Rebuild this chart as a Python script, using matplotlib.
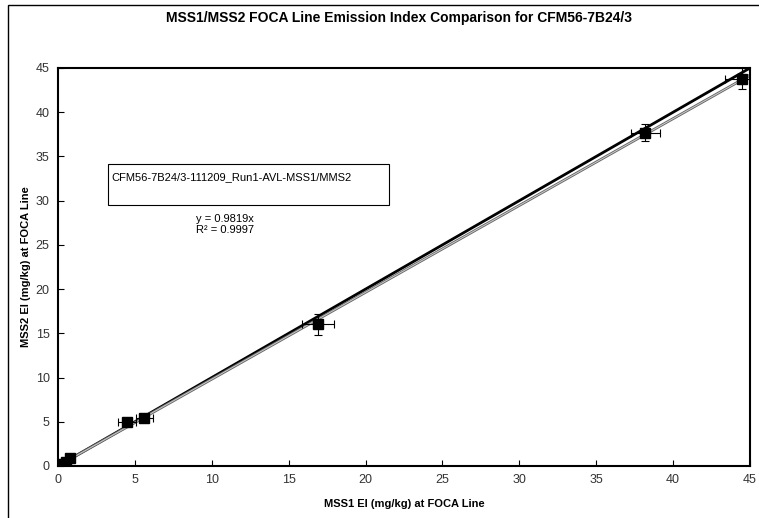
import matplotlib.pyplot as plt
from matplotlib.patches import Rectangle
import numpy as np

plt.rcParams['font.family'] = ['Liberation Sans', 'DejaVu Sans']

# data
mss1 = [0.3, 0.5, 0.8, 4.5, 5.6, 16.9, 38.2, 44.5]
mss2 = [0.2, 0.4, 0.85, 4.95, 5.45, 16.0, 37.7, 43.8]
mss1_err = [0.1, 0.15, 0.2, 0.6, 0.55, 1.05, 0.95, 1.1]
mss2_err = [0.1, 0.1, 0.15, 0.3, 0.35, 1.2, 0.95, 1.15]
slope = 0.9819
r2 = 0.9997
lim = [0, 45]

fig = plt.figure(figsize=(7.59, 5.18), dpi=100)
ax = fig.add_axes([58/759, 1-466/518, (750-58)/759, (466-68)/518])

# outer chart border (cropped at right and bottom)
fig.patches.append(Rectangle((8/759, -0.05), 1.1, 1-5/518+0.05, transform=fig.transFigure,
                             fill=False, edgecolor='black', linewidth=1))

ax.plot(lim, lim, color='black', linewidth=2, zorder=2)
xx = np.array(lim)
ax.plot(xx, slope*xx, color='#666666', linewidth=2.0, zorder=2)
ax.plot(xx, slope*xx, color='#cccccc', linewidth=0.7, zorder=2)
ax.errorbar(mss1, mss2, xerr=mss1_err, yerr=mss2_err, fmt='s', color='black',
            markersize=7, ecolor='black', elinewidth=0.8, capsize=3, capthick=0.8, zorder=3)

ax.set_xlim(lim)
ax.set_ylim(lim)
ax.set_xticks(range(0, 46, 5))
ax.set_yticks(range(0, 46, 5))
ax.tick_params(direction='in', length=4, labelsize=9, labelcolor='#333333', pad=6)
for s in ax.spines.values():
    s.set_linewidth(1.5)

ax.set_xlabel('MSS1 EI (mg/kg) at FOCA Line', fontsize=8, fontweight='bold', labelpad=9)
ax.set_ylabel('MSS2 EI (mg/kg) at FOCA Line', fontsize=8, fontweight='bold', labelpad=3)
fig.text(399/759, 1-18/518, 'MSS1/MSS2 FOCA Line Emission Index Comparison for CFM56-7B24/3',
         ha='center', va='center', fontsize=10, fontweight='bold')

ax.add_patch(Rectangle((3.25, 29.5), 18.25, 4.7, fill=False, edgecolor='black', linewidth=0.8))
ax.text(3.5, 32.7, 'CFM56-7B24/3-111209_Run1-AVL-MSS1/MMS2', fontsize=8, va='center')
ax.text(9.0, 27.3, 'y = 0.9819x\nR² = 0.9997', fontsize=8, va='center', linespacing=1.15)

fig.savefig('out.png', dpi=100)
